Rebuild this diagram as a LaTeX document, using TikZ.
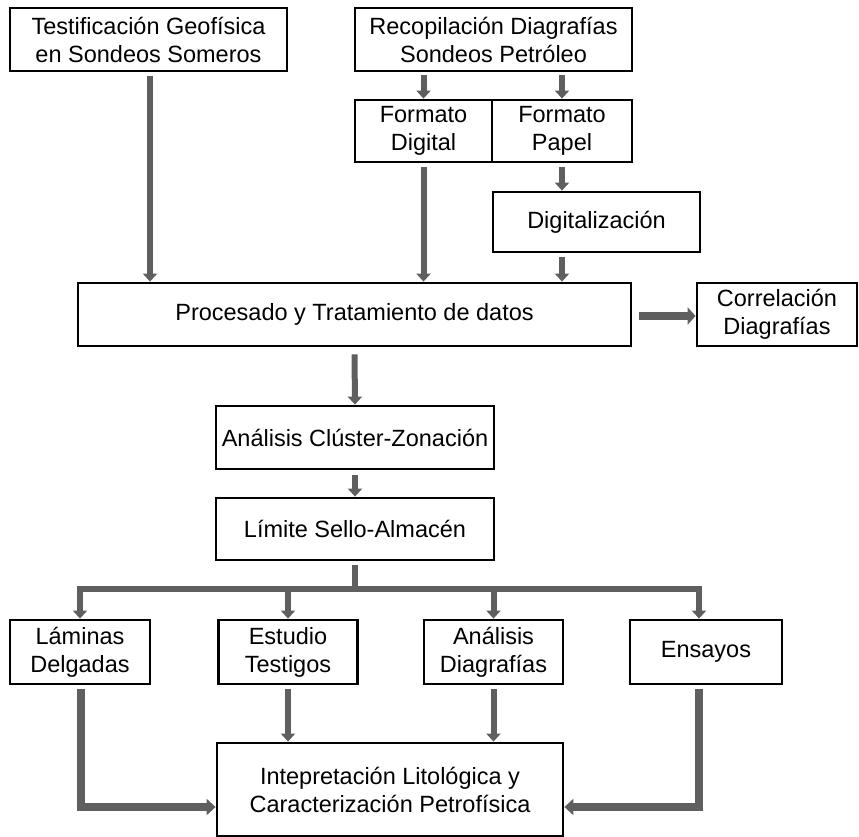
\documentclass[tikz,border=0pt]{standalone}
\usepackage{fontspec}
\setmainfont{Liberation Sans}
\usetikzlibrary{arrows.meta}
\definecolor{arrgray}{RGB}{95,95,95}
\tikzset{
  box/.style={draw=black, line width=2.8pt, fill=white, inner sep=0pt, align=center,
    font=\fontsize{23.5}{28}\selectfont},
  arr/.style={draw=arrgray, line width=6pt, -{Triangle[width=14pt,length=8pt]}},
  thickarr/.style={draw=arrgray, line width=7.5pt, -{Triangle[width=16pt,length=9pt]}},
  ln/.style={draw=arrgray, line width=6pt}
}
\begin{document}
\begin{tikzpicture}[x=1pt,y=-1pt]
\useasboundingbox (0,0) rectangle (859,837);
% boxes
\node[box, minimum width=277pt, minimum height=63pt] (tg) at (148.5,39.5) {Testificación Geofísica\\en Sondeos Someros};
\node[box, minimum width=277pt, minimum height=63pt] (rc) at (493.5,39.5) {Recopilación Diagrafías\\Sondeos Petróleo};
\node[box, minimum width=137pt, minimum height=62pt] (fd) at (423.5,131) {Formato\\Digital};
\node[box, minimum width=140pt, minimum height=62pt] (fp) at (562,131) {Formato\\Papel};
\node[box, minimum width=207pt, minimum height=60pt] (dg) at (596.5,222) {Digitalización};
\node[box, minimum width=553pt, minimum height=63pt] (pr) at (354.5,314.5) {Procesado y Tratamiento de datos};
\node[box, minimum width=160pt, minimum height=63pt] (cd) at (777,314.5) {Correlación\\Diagrafías};
\node[box, minimum width=278pt, minimum height=63pt] (ac) at (355,437.5) {Análisis Clúster-Zonación};
\node[box, minimum width=278pt, minimum height=62pt] (ls) at (355,529) {Límite Sello-Almacén};
\node[box, minimum width=140pt, minimum height=64pt] (lm) at (80,652) {Láminas\\Delgadas};
\node[box, minimum width=139pt, minimum height=64pt] (et) at (288,652) {Estudio\\Testigos};
\node[box, minimum width=139pt, minimum height=64pt] (ad) at (493.5,652) {Análisis\\Diagrafías};
\node[box, minimum width=152pt, minimum height=64pt] (en) at (706,652) {Ensayos};
\node[box, minimum width=346pt, minimum height=93pt] (ip) at (390,789.5) {Intepretación Litológica y\\Caracterización Petrofísica};
% helper coordinates
\coordinate (bj) at (355,589);
\coordinate (ipl) at ([yshift=-17.5pt]ip.west);
\coordinate (ipr) at ([yshift=-17.5pt]ip.east);
\coordinate (enx) at ([xshift=-7pt]en.north);
% top arrows
\draw[arr] ([xshift=1.5pt,yshift=-4pt]tg.south) -- ([xshift=1.5pt]tg.south |- pr.north);
\draw[arr] ([yshift=-3pt]rc.south -| fd.north) -- (fd.north);
\draw[arr] ([yshift=-3pt]rc.south -| fp.north) -- (fp.north);
\draw[arr] ([yshift=-4pt]fd.south) -- (fd.south |- pr.north);
\draw[arr] ([yshift=-4pt]fp.south) -- (fp.south |- dg.north);
\draw[arr] ([yshift=-4pt]fp.south |- dg.south) -- (fp.south |- pr.north);
\draw[arr, line width=8pt, -{Triangle[width=17pt,length=8pt]}] ([xshift=7pt,yshift=-1.5pt]pr.east) -- ([yshift=-1.5pt]cd.west);
\draw[arr] ([yshift=-7pt]pr.south) -- (ac.north);
\draw[arr] ([yshift=-5pt]ac.south) -- (ls.north);
% branch
\draw[ln] ([yshift=-4pt]ls.south) -- (bj);
\draw[arr] (bj) -| (lm.north);
\draw[arr] (bj) -| (enx);
\draw[arr] (bj -| et.north) -- (et.north);
\draw[arr] (bj -| ad.north) -- (ad.north);
% to interpretation
\draw[arr] ([yshift=-4pt]et.south) -- (et.south |- ip.north);
\draw[arr] ([yshift=-4pt]ad.south) -- (ad.south |- ip.north);
\draw[thickarr] ([xshift=1pt,yshift=-4pt]lm.south) |- (ipl);
\draw[thickarr] ([xshift=-7pt,yshift=-4pt]en.south) |- (ipr);
\end{tikzpicture}
\end{document}
